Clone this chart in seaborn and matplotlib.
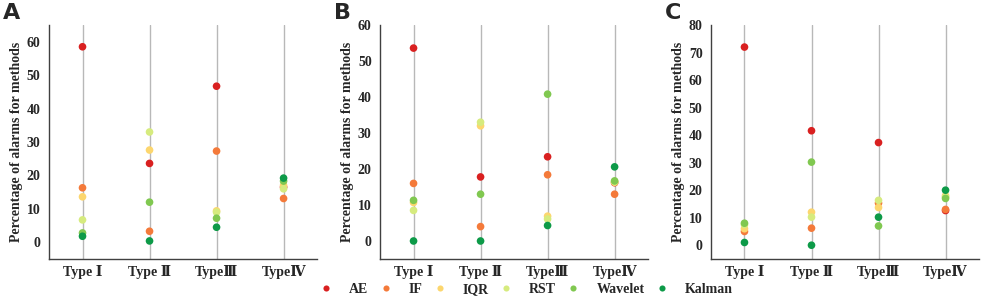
import numpy as np
import pandas as pd
import matplotlib.pyplot as plt
import seaborn as sns

types = ['Type Ⅰ', 'Type Ⅱ', 'TypeⅢ', 'TypeⅣ']
methods = ['AE', 'IF', 'IQR', 'RST', 'Wavelet', 'Kalman']

# values per panel: rows = methods, columns = types
vals_a = {
    'AE':      [58.5, 23.6, 46.7, 16.5],
    'IF':      [16.3, 3.3, 27.3, 13.1],
    'IQR':     [13.6, 27.6, 9.4, 17.0],
    'RST':     [6.7, 33.0, 9.0, 16.0],
    'Wavelet': [2.8, 12.0, 7.2, 18.3],
    'Kalman':  [1.8, 0.4, 4.5, 19.2],
}
vals_b = {
    'AE':      [53.6, 17.8, 23.4, 16.2],
    'IF':      [16.0, 4.0, 18.4, 13.0],
    'IQR':     [10.7, 32.0, 6.9, 16.3],
    'RST':     [8.5, 33.0, 6.1, 16.5],
    'Wavelet': [11.3, 13.0, 40.8, 16.7],
    'Kalman':  [0.0, 0.0, 4.3, 20.6],
}
vals_c = {
    'AE':      [72.0, 41.6, 37.3, 12.6],
    'IF':      [5.0, 6.2, 15.3, 13.0],
    'IQR':     [6.0, 12.0, 13.7, 18.0],
    'RST':     [7.5, 10.2, 16.3, 17.5],
    'Wavelet': [8.0, 30.2, 7.0, 17.0],
    'Kalman':  [1.0, 0.0, 10.2, 20.0],
}
panels = ['A', 'B', 'C']
ylims = [(-5, 65), (-5, 60), (-5, 80)]
yticks = [range(0, 61, 10), range(0, 61, 10), range(0, 81, 10)]

palette = ['#d92020', '#f47a3a', '#fcd66e', '#d6eb7e', '#80c850', '#0d9a48']
serif = ['Liberation Serif', 'DejaVu Serif', 'DejaVu Sans']

sns.set_style('white')
plt.rcParams['font.family'] = serif
plt.rcParams['font.weight'] = 'bold'

fig = plt.figure(figsize=(9.82, 3.07), dpi=100)
lefts = [0.0499, 0.387, 0.724]

for i, vals in enumerate([vals_a, vals_b, vals_c]):
    df = pd.DataFrame(vals, index=types).reset_index().melt(
        id_vars='index', var_name='method', value_name='pct')
    df = df.rename(columns={'index': 'type'})
    ax = fig.add_axes([lefts[i], 0.1564, 0.273, 0.762])
    for t in range(len(types)):
        ax.axvline(t, color='#b8b8b8', lw=1, zorder=0)
    sns.stripplot(data=df, x='type', y='pct', hue='method', order=types,
                  hue_order=methods, palette=palette, jitter=False, dodge=False,
                  size=5.5, linewidth=0, ax=ax, zorder=3)
    if i == 0:
        handles, labels = ax.get_legend_handles_labels()
    ax.get_legend().remove()
    ax.set_xlim(-0.5, 3.5)
    ax.set_ylim(*ylims[i])
    ax.set_yticks(list(yticks[i]))
    ax.set_xlabel('')
    ax.set_ylabel('Percentage of alarms for methods', fontsize=10, fontweight='bold', labelpad=3)
    ax.tick_params(axis='x', length=0, labelsize=10, pad=4)
    ax.tick_params(axis='y', length=4, width=1, color='#404040', labelsize=10, pad=2)
    for lab in ax.get_xticklabels() + ax.get_yticklabels():
        lab.set_fontweight('bold')
    sns.despine(ax=ax)
    for s in ['left', 'bottom']:
        ax.spines[s].set_color('#404040')
        ax.spines[s].set_linewidth(1)
    fig.text(lefts[i] - 0.047, 0.99, panels[i], fontsize=16, fontweight='bold',
             family='DejaVu Sans', va='top', ha='left')

fig.legend(handles, labels, loc='lower center', bbox_to_anchor=(0.532, -0.005), ncol=6,
           frameon=False, markerscale=0.8, handlelength=2.0, handletextpad=0.65,
           columnspacing=0.25, prop={'family': serif, 'weight': 'bold', 'size': 10})

fig.savefig('out.png', dpi=100)
